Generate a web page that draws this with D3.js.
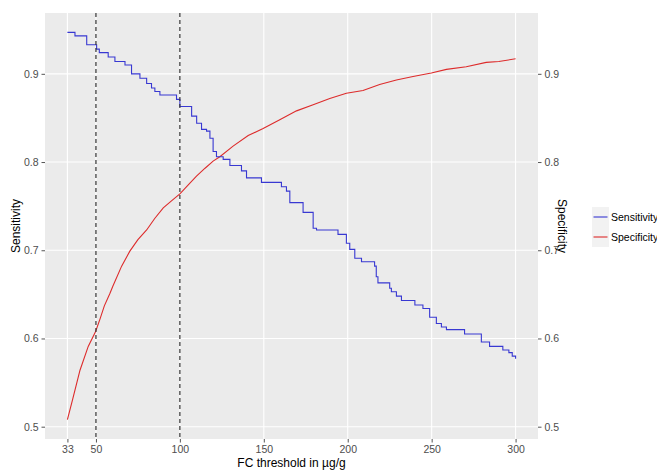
<!DOCTYPE html>
<html>
<head>
<meta charset="utf-8">
<script src="https://cdn.jsdelivr.net/npm/d3@7"></script>
<style>
  body { margin: 0; background: #fff; }
  svg { display: block; font-family: "Liberation Sans", Arial, sans-serif; }
</style>
</head>
<body>
<svg id="chart" width="657" height="471"></svg>
<script>
// ---- data ----
const xTicks = [33, 50, 100, 150, 200, 250, 300];
const yTicks = [0.5, 0.6, 0.7, 0.8, 0.9];
const cutoffs = [50, 100];
const seriesNames = ["Sensitivity", "Specificity"];

const sensThreshold = [33, 37.5, 44.5, 50.4, 52, 57.3, 61.3, 67.3, 71.2, 76.2, 80.2, 83.1, 85.1, 88.1, 98, 100,
  107, 110, 112.9, 115.9, 117.9, 119.8, 121.8, 125.8, 129.8, 136.7, 139.7, 148.6, 160.5, 163.5, 165.5,
  173.4, 179.4, 181.4, 194.2, 199.2, 201.2, 204.2, 208.2, 216, 217, 218, 225, 226, 229, 232, 240,
  244.8, 248.8, 252.8, 255.8, 258.8, 269.6, 279.6, 284.5, 292.4, 296, 298, 300];
const sensValue = [0.947, 0.943, 0.933, 0.928, 0.924, 0.919, 0.914, 0.910, 0.900, 0.895, 0.889, 0.884, 0.880, 0.876, 0.871, 0.863,
  0.852, 0.844, 0.837, 0.835, 0.827, 0.812, 0.806, 0.803, 0.796, 0.790, 0.782, 0.777, 0.772, 0.767, 0.754,
  0.743, 0.725, 0.723, 0.718, 0.708, 0.701, 0.691, 0.687, 0.682, 0.670, 0.663, 0.657, 0.653, 0.648, 0.643, 0.638,
  0.634, 0.624, 0.617, 0.613, 0.610, 0.605, 0.596, 0.591, 0.587, 0.584, 0.580, 0.577];

const specThreshold = [33, 36, 40.5, 45.4, 49.8, 52.4, 55, 58.3, 60, 65.3, 70.2, 75, 80.2, 85, 90.1, 95, 100, 105,
  109.9, 115, 119.8, 123.8, 131.7, 140.7, 149.6, 159.5, 169.5, 179.4, 189.3, 199.2, 209.1, 219, 229,
  238.9, 249.8, 258.8, 270.6, 282.5, 290, 300];
const specValue = [0.508, 0.530, 0.564, 0.591, 0.608, 0.622, 0.637, 0.651, 0.659, 0.682, 0.699, 0.712, 0.723, 0.736, 0.748, 0.756, 0.764, 0.774,
  0.784, 0.793, 0.801, 0.806, 0.818, 0.830, 0.838, 0.848, 0.858, 0.865, 0.872, 0.878, 0.881, 0.888, 0.893,
  0.897, 0.901, 0.905, 0.908, 0.913, 0.914, 0.917];

// ---- layout ----
const svg = d3.select("#chart");
const panel = { left: 45, right: 538, top: 13, bottom: 439 };
const colors = { Sensitivity: "#3838d2", Specificity: "#dd2b2b" };

const xr = [33, 300], xpad = (xr[1] - xr[0]) * 0.05;
const x = d3.scaleLinear().domain([xr[0] - xpad, xr[1] + xpad]).range([panel.left, panel.right]);
const allY = sensValue.concat(specValue);
const yr = [d3.min(allY), d3.max(allY)], ypad = (yr[1] - yr[0]) * 0.05;
const y = d3.scaleLinear().domain([yr[0] - ypad, yr[1] + ypad]).range([panel.bottom, panel.top]);

// panel background
svg.append("rect")
  .attr("x", panel.left).attr("y", panel.top)
  .attr("width", panel.right - panel.left).attr("height", panel.bottom - panel.top)
  .attr("fill", "#ebebeb");

// grid
const grid = svg.append("g");
grid.selectAll("line.gx").data(xTicks).join("line")
  .attr("x1", d => x(d)).attr("x2", d => x(d))
  .attr("y1", panel.top).attr("y2", panel.bottom)
  .attr("stroke", "#fff").attr("stroke-width", 1.1);
grid.selectAll("line.gy").data(yTicks).join("line")
  .attr("y1", d => y(d)).attr("y2", d => y(d))
  .attr("x1", panel.left).attr("x2", panel.right)
  .attr("stroke", "#fff").attr("stroke-width", 1.1);

// axes
function styleAxis(g) {
  g.select(".domain").remove();
  g.selectAll(".tick line").attr("stroke", "#555").attr("stroke-width", 1);
  g.selectAll(".tick text").attr("fill", "#4d4d4d").style("font-size", "10.5px")
    .style("font-family", "'Liberation Sans', Arial, sans-serif");
}
svg.append("g").attr("transform", `translate(0,${panel.bottom})`)
  .call(d3.axisBottom(x).tickValues(xTicks).tickFormat(d3.format("d")).tickSize(3.5).tickPadding(3))
  .call(styleAxis);
svg.append("g").attr("transform", `translate(${panel.left},0)`)
  .call(d3.axisLeft(y).tickValues(yTicks).tickFormat(d3.format(".1f")).tickSize(3.5).tickPadding(3))
  .call(styleAxis);
svg.append("g").attr("transform", `translate(${panel.right},0)`)
  .call(d3.axisRight(y).tickValues(yTicks).tickFormat(d3.format(".1f")).tickSize(3.5).tickPadding(3))
  .call(styleAxis);

// series lines
const sensData = sensThreshold.map((t, i) => [t, sensValue[i]]);
const specData = specThreshold.map((t, i) => [t, specValue[i]]);
const stepLine = d3.line().x(d => x(d[0])).y(d => y(d[1])).curve(d3.curveStepAfter);
const smoothLine = d3.line().x(d => x(d[0])).y(d => y(d[1])).curve(d3.curveLinear);

svg.append("path").datum(specData).attr("d", smoothLine)
  .attr("fill", "none").attr("stroke", colors.Specificity).attr("stroke-width", 1.1);
svg.append("path").datum(sensData).attr("d", stepLine)
  .attr("fill", "none").attr("stroke", colors.Sensitivity).attr("stroke-width", 1.1);

// cutoff dashed lines
svg.selectAll("line.cut").data(cutoffs).join("line")
  .attr("x1", d => x(d)).attr("x2", d => x(d))
  .attr("y1", panel.top).attr("y2", panel.bottom)
  .attr("stroke", "#333").attr("stroke-width", 1.2).attr("stroke-dasharray", "4,3");

// axis titles
svg.append("text").attr("x", (panel.left + panel.right) / 2).attr("y", 467)
  .attr("text-anchor", "middle").style("font-size", "12px").attr("fill", "#000")
  .text("FC threshold in µg/g");
svg.append("text").attr("transform", `translate(20,${(panel.top + panel.bottom) / 2}) rotate(-90)`)
  .attr("text-anchor", "middle").style("font-size", "12px").attr("fill", "#000")
  .text("Sensitivity");
svg.append("text").attr("transform", `translate(558,${(panel.top + panel.bottom) / 2}) rotate(90)`)
  .attr("text-anchor", "middle").style("font-size", "12px").attr("fill", "#000")
  .text("Specificity");

// legend
const legend = svg.append("g").attr("transform", "translate(592,207)");
const keyW = 17, keyH = 20;
seriesNames.forEach((name, i) => {
  const g = legend.append("g").attr("transform", `translate(0,${i * keyH})`);
  g.append("rect").attr("width", keyW).attr("height", keyH).attr("fill", "#f2f2f2");
  g.append("line").attr("x1", 1.5).attr("x2", keyW - 1.5).attr("y1", keyH / 2).attr("y2", keyH / 2)
    .attr("stroke", colors[name]).attr("stroke-width", 1.1);
  g.append("text").attr("x", keyW + 2).attr("y", keyH / 2).attr("dy", "0.35em")
    .style("font-size", "10.5px").attr("fill", "#000").text(name);
});
</script>
</body>
</html>
